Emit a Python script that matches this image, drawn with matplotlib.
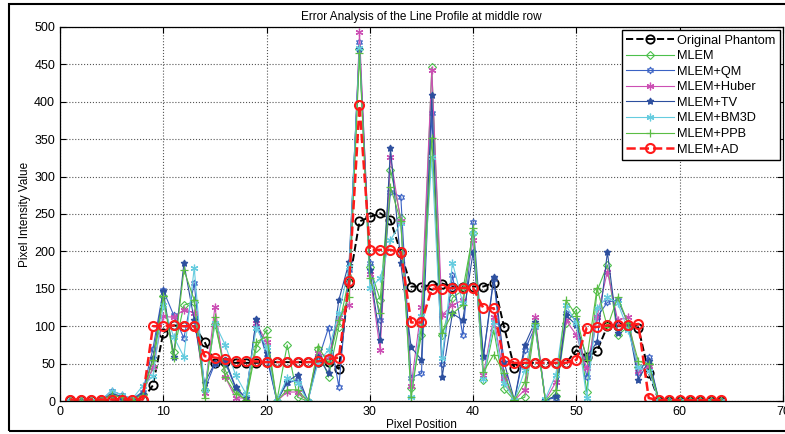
import matplotlib
matplotlib.use("Agg")
import matplotlib.pyplot as plt
from matplotlib.patches import Rectangle

plt.rcParams['font.family'] = ['Liberation Sans', 'DejaVu Sans']

pixels = list(range(1, 65))

original = [1, 1, 1, 1, 2, 2, 2, 2,
            21, 91, 101, 100, 100, 79, 51, 52, 51, 51, 51,
            52, 52, 52, 52, 52, 52, 52, 43,
            158, 240, 246, 251, 242, 198, 153, 153, 155, 157, 153, 153, 153, 153, 158, 99, 44,
            51, 51, 51, 51, 51,
            68, 59, 67, 100, 100, 100, 98, 38,
            0, 0, 0, 0, 0, 0, 0]

mlem = [0, 0, 0, 1, 8, 5, 2, 10,
        45, 140, 65, 128, 133, 15, 103, 41, 15, 0, 71,
        95, 0, 75, 5, 0, 70, 32, 99,
        165, 470, 179, 135, 309, 244, 17, 88, 446, 88, 138, 148, 225, 28, 95, 16, 1,
        5, 102, 0, 7, 104,
        122, 12, 147, 182, 88, 99, 45, 50,
        0, 0, 0, 0, 0, 0, 0]

mlem_qm = [0, 0, 0, 1, 14, 8, 3, 12,
           70, 148, 115, 84, 158, 15, 50, 52, 17, 4, 108,
           59, 0, 24, 28, 0, 55, 98, 19,
           175, 480, 185, 108, 280, 273, 31, 37, 385, 50, 168, 88, 239, 59, 163, 34, 1,
           68, 99, 2, 4, 118,
           108, 32, 112, 132, 135, 104, 37, 59,
           0, 0, 0, 0, 0, 0, 0]

mlem_huber = [0, 0, 0, 1, 10, 6, 2, 8,
              45, 113, 112, 122, 118, 11, 126, 32, 4, 4, 104,
              79, 0, 12, 12, 0, 64, 59, 112,
              128, 493, 170, 68, 326, 240, 20, 126, 442, 115, 128, 135, 215, 35, 112, 31, 1,
              15, 112, 1, 25, 108,
              88, 44, 112, 173, 108, 112, 40, 47,
              0, 0, 0, 0, 0, 0, 0]

mlem_tv = [0, 0, 0, 1, 10, 6, 2, 10,
           58, 147, 59, 184, 108, 24, 51, 55, 19, 4, 110,
           64, 0, 26, 35, 0, 59, 37, 135,
           186, 470, 175, 82, 338, 184, 72, 55, 409, 32, 117, 108, 199, 60, 166, 52, 1,
           75, 106, 1, 7, 115,
           101, 59, 79, 199, 91, 104, 28, 54,
           0, 0, 0, 0, 0, 0, 0]

mlem_bm3d = [0, 0, 0, 1, 14, 8, 3, 20,
             33, 128, 86, 59, 178, 15, 104, 75, 35, 10, 98,
             72, 0, 31, 24, 0, 52, 68, 118,
             179, 472, 151, 164, 215, 238, 5, 113, 326, 57, 185, 131, 224, 30, 105, 24, 1,
             41, 100, 3, 35, 128,
             104, 4, 124, 139, 131, 95, 45, 40,
             0, 0, 0, 0, 0, 0, 0]

mlem_ppb = [0, 0, 0, 1, 8, 5, 2, 8,
            55, 140, 57, 175, 135, 4, 112, 32, 10, 2, 79,
            86, 0, 15, 15, 0, 72, 51, 108,
            139, 465, 165, 118, 286, 240, 5, 100, 352, 91, 117, 128, 231, 39, 62, 37, 1,
            25, 104, 0, 15, 135,
            114, 55, 151, 99, 139, 104, 53, 50,
            0, 0, 0, 0, 0, 0, 0]

mlem_ad = [2, 2, 2, 2, 2, 2, 2, 2,
           100, 100, 101, 100, 100, 60, 58, 56, 54, 53, 53,
           52, 52, 52, 52, 52, 53, 56, 58,
           160, 395, 202, 202, 202, 199, 105, 105, 150, 150, 151, 151, 151, 124, 124, 53, 51,
           51, 51, 51, 51, 51,
           55, 98, 99, 101, 101, 101, 103, 4,
           1, 1, 1, 1, 1, 1, 1]

fig = plt.figure(figsize=(7.85, 4.34), dpi=100)
ax = fig.add_axes([0.0764, 0.076, 0.921, 0.862])

ax.plot(pixels, original, '--', color='black', lw=1.4, marker='o', ms=6,
        mfc='none', mew=1.3, label='Original Phantom')
ax.plot(pixels, mlem, '-', color='#4cc04c', lw=0.8, marker='D', ms=4.5,
        mfc='none', mew=0.8, label='MLEM')
ax.plot(pixels, mlem_qm, '-', color='#3a62c4', lw=0.8, marker=(6, 1, 0), ms=5,
        mfc='none', mew=0.8, label='MLEM+QM')
ax.plot(pixels, mlem_huber, '-', color='#cc4fb4', lw=0.8, marker=(6, 2, 0), ms=5.5,
        mew=0.9, label='MLEM+Huber')
ax.plot(pixels, mlem_tv, '-', color='#2d4f9e', lw=0.8, marker=(5, 1, 0), ms=5,
        mew=0.8, label='MLEM+TV')
ax.plot(pixels, mlem_bm3d, '-', color='#66ccdf', lw=0.8, marker=(6, 2, 0), ms=5.5,
        mew=0.9, label='MLEM+BM3D')
ax.plot(pixels, mlem_ppb, '-', color='#5bbd44', lw=0.8, marker='+', ms=6,
        mew=0.9, label='MLEM+PPB')
ax.plot(pixels, mlem_ad, '--', color='#ff1a1a', lw=1.8, marker='o', ms=6.5,
        mfc='none', mew=1.5, label='MLEM+AD')

ax.set_xlim(0, 70)
ax.set_ylim(0, 500)
ax.set_xticks(range(0, 71, 10))
ax.set_yticks(range(0, 501, 50))
ax.tick_params(direction='in', labelsize=9, length=4, width=0.8, top=True, right=True)
ax.grid(True, linestyle=':', color='#555555', linewidth=0.8)
for s in ax.spines.values():
    s.set_linewidth(0.9)

ax.set_title('Error Analysis of the Line Profile at middle row', fontsize=8.5, pad=5)
ax.set_xlabel('Pixel Position', fontsize=8.5, labelpad=1)
ax.set_ylabel('Pixel Intensity Value', fontsize=8.5, labelpad=2)

leg = ax.legend(loc='upper right', fontsize=9.2, fancybox=False, framealpha=1,
                edgecolor='black', handlelength=3.7, handletextpad=0.25,
                labelspacing=0.28, borderpad=0.35, borderaxespad=0.25)
leg.get_frame().set_linewidth(1.0)

# outer frame around the whole figure
fig.patches.append(Rectangle((0.0115, 0.007), 1.0, 0.984, transform=fig.transFigure,
                             fill=False, edgecolor='black', linewidth=1.5))

fig.savefig('out.png', dpi=100)
